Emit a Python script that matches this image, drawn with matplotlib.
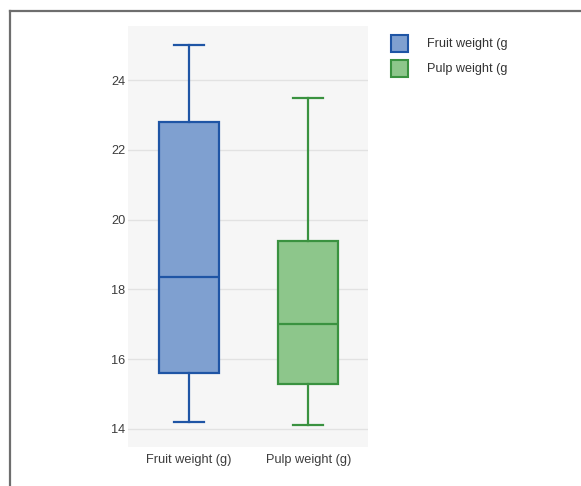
import matplotlib
matplotlib.use("Agg")
import matplotlib.pyplot as plt
from matplotlib.patches import Rectangle
from matplotlib.lines import Line2D

categories = ["Fruit weight (g)", "Pulp weight (g)"]
legend_labels = ["Fruit weight (g", "Pulp weight (g"]
whislo = [14.2, 14.1]
q1 = [15.6, 15.3]
med = [18.35, 17.0]
q3 = [22.8, 19.4]
whishi = [25.0, 23.5]
yticks = [14, 16, 18, 20, 22, 24]

edge_colors = ["#1f55a5", "#3a9240"]
fill_colors = ["#7fa0d0", "#8dc68b"]

plt.rcParams['font.family'] = ['Liberation Sans', 'DejaVu Sans']

W, H = 581, 486
fig = plt.figure(figsize=(W / 100, H / 100), dpi=100)
ax = fig.add_axes([128 / W, 1 - 447 / H, 240 / W, 421 / H])
ax.set_facecolor("#f6f6f6")

stats = []
for i in range(len(categories)):
    stats.append(dict(label=categories[i], whislo=whislo[i], q1=q1[i], med=med[i],
                      q3=q3[i], whishi=whishi[i], fliers=[]))

for i, s in enumerate(stats):
    ax.bxp([s], positions=[i], widths=0.5, patch_artist=True, showfliers=False,
           boxprops=dict(facecolor=fill_colors[i], edgecolor=edge_colors[i], linewidth=1.6),
           medianprops=dict(color=edge_colors[i], linewidth=1.6),
           whiskerprops=dict(color=edge_colors[i], linewidth=1.6),
           capprops=dict(color=edge_colors[i], linewidth=1.6),
           capwidths=0.25)

ax.set_xlim(-0.51, 1.5)
ax.set_ylim(13.48, 25.55)
ax.set_yticks(yticks)
ax.set_yticklabels([str(t) for t in yticks])
ax.set_xticks(range(len(categories)))
ax.set_xticklabels(categories)
ax.grid(axis='y', color="#e2e2e2", linewidth=1)
ax.set_axisbelow(True)
for sp in ax.spines.values():
    sp.set_visible(False)
ax.tick_params(axis='both', length=0, labelsize=9.2, colors="#3c3c3c", pad=2)
ax.tick_params(axis='x', pad=5)

# Legend
for i, lab in enumerate(legend_labels):
    y0 = 35 + i * 25
    fig.patches.append(Rectangle((391 / W, 1 - (y0 + 17) / H), 17 / W, 17 / H,
                                 transform=fig.transFigure, facecolor=fill_colors[i],
                                 edgecolor=edge_colors[i], linewidth=1.5))
    fig.text(427 / W, 1 - (y0 + 9) / H, lab, fontsize=9.1, color="#333333",
             va='center', ha='left')

# Frame border
fig.lines.append(Line2D([9.5 / W, 1.0], [1 - 11.5 / H, 1 - 11.5 / H], transform=fig.transFigure,
                        color="#6e6e6e", linewidth=1.6))
fig.lines.append(Line2D([9.5 / W, 9.5 / W], [1 - 11.5 / H, 0], transform=fig.transFigure,
                        color="#6e6e6e", linewidth=1.6))

fig.savefig("out.png", dpi=100)
